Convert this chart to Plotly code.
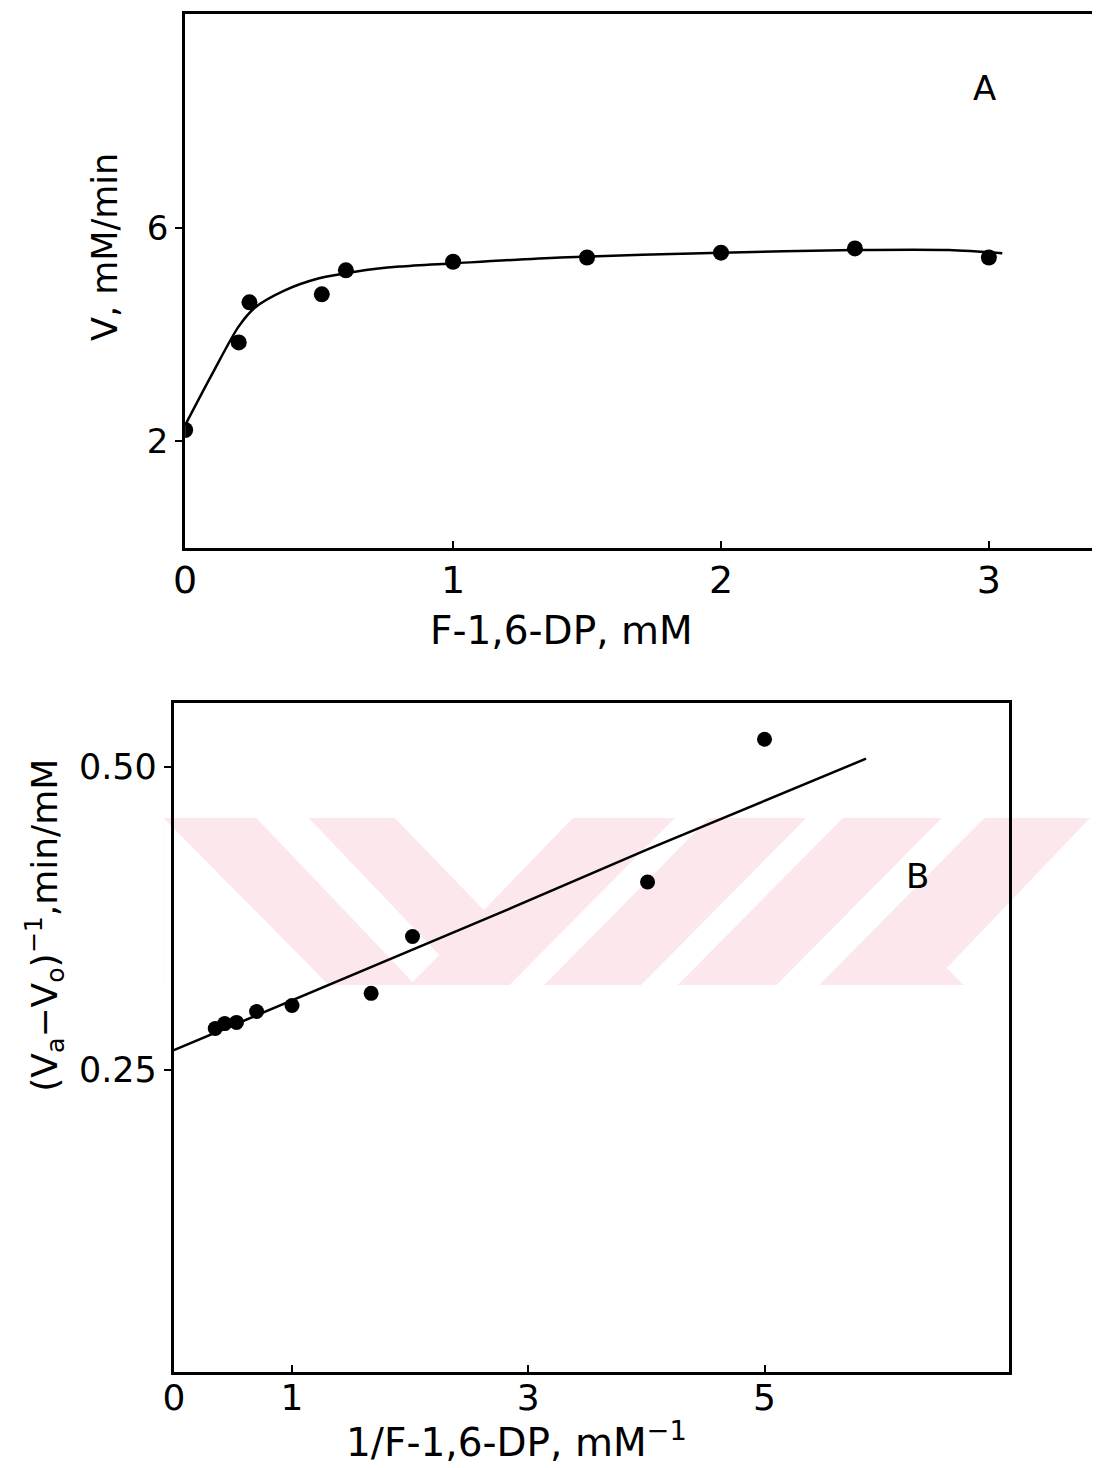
import plotly.graph_objects as go

# page offset of the plot inside the browser body (default 8px body margin)
OFF = 8
W, H = 1100 - OFF, 1468 - OFF

# ---------------- Panel A data ----------------
a_x = [0.0, 0.20, 0.24, 0.51, 0.60, 1.0, 1.5, 2.0, 2.5, 3.0]
a_y = [2.21, 3.85, 4.60, 4.75, 5.20, 5.36, 5.44, 5.53, 5.61, 5.44]
a_curve_x = [0.0, 0.10, 0.20, 0.26, 0.37, 0.50, 0.64, 0.80, 1.0, 1.4, 2.0, 2.5, 2.85, 3.05]
a_curve_y = [2.30, 3.25, 4.15, 4.50, 4.82, 5.05, 5.18, 5.27, 5.33, 5.44, 5.53, 5.58, 5.58, 5.52]
a_xticks = [0, 1, 2, 3]
a_xticklabels = ["0", "1", "2", "3"]
a_yticks = [2, 6]
a_yticklabels = ["2", "6"]

# ---------------- Panel B data ----------------
b_x = [0.35, 0.43, 0.53, 0.70, 1.0, 1.67, 2.02, 4.01, 5.0]
b_y = [0.284, 0.288, 0.289, 0.298, 0.303, 0.313, 0.360, 0.405, 0.523]
b_line_x = [0.0, 2.82, 4.01, 5.0, 5.86]
b_line_y = [0.266, 0.382, 0.432, 0.472, 0.507]
b_xticks = [0, 1, 3, 5]
b_xticklabels = ["0", "1", "3", "5"]
b_yticks = [0.25, 0.50]
b_yticklabels = ["0.25", "0.50"]

FONT = "DejaVu Sans"


def px(x):
    return (x - OFF) / W


def py(y):
    return 1 - (y - OFF) / H


fig = go.Figure()

fig.add_trace(go.Scatter(x=a_curve_x, y=a_curve_y, mode="lines",
                         line=dict(color="black", width=2.5, shape="spline", smoothing=0.8),
                         xaxis="x", yaxis="y", showlegend=False))
fig.add_trace(go.Scatter(x=a_x, y=a_y, mode="markers",
                         marker=dict(color="black", size=16),
                         xaxis="x", yaxis="y", showlegend=False))
fig.add_trace(go.Scatter(x=b_line_x, y=b_line_y, mode="lines",
                         line=dict(color="black", width=2.5),
                         xaxis="x2", yaxis="y2", showlegend=False))
fig.add_trace(go.Scatter(x=b_x, y=b_y, mode="markers",
                         marker=dict(color="black", size=15),
                         xaxis="x2", yaxis="y2", showlegend=False))

axis_common = dict(showline=True, linecolor="black", linewidth=3, mirror=True,
                   showgrid=False, zeroline=False, ticks="outside", tickcolor="black",
                   tickwidth=2, ticklen=7)

fig.update_layout(
    width=W, height=H,
    margin=dict(l=0, r=0, t=0, b=0),
    paper_bgcolor="white", plot_bgcolor="rgba(0,0,0,0)",
    font=dict(family=FONT, color="black"),
    xaxis=dict(axis_common, domain=[px(175), px(1096)], range=[0, 3.40], anchor="y",
               tickvals=a_xticks, ticktext=a_xticklabels, ticks="inside",
               ticklabelstandoff=-4,
               tickfont=dict(size=38, family=FONT)),
    yaxis=dict(axis_common, domain=[py(548), py(14)], range=[0, 10], anchor="x",
               tickvals=a_yticks, ticktext=a_yticklabels,
               tickfont=dict(size=34, family=FONT)),
    xaxis2=dict(axis_common, domain=[px(163.6), px(1008)], range=[0, 7.07], anchor="y2",
                tickvals=b_xticks, ticktext=b_xticklabels, ticks="inside",
                ticklabelstandoff=-8,
                tickfont=dict(size=36, family=FONT)),
    yaxis2=dict(axis_common, domain=[py(1372), py(703)], range=[0, 0.553], anchor="x2",
                tickvals=b_yticks, ticktext=b_yticklabels,
                tickfont=dict(size=35, family=FONT)),
)

# ---------------- text ----------------
ann = [
    dict(text="A", x=px(983), y=py(88), size=34),
    dict(text="B", x=px(915), y=py(876), size=34),
    dict(text="V, mM/min", x=px(94), y=py(247), size=35, angle=-90),
    dict(text="F-1,6-DP, mM", x=px(556), y=py(630), size=39),
    dict(text="1/F-1,6-DP, mM<sup>−1</sup>", x=px(510), y=py(1440), size=39),
    dict(text="(V<sub>a</sub>−V<sub>o</sub>)<sup>−1</sup>,min/mM", x=px(33), y=py(925),
         size=36, angle=-90),
]
for a in ann:
    fig.add_annotation(text=a["text"], x=a["x"], y=a["y"], xref="paper", yref="paper",
                       showarrow=False, xanchor="center", yanchor="middle",
                       textangle=a.get("angle", 0),
                       font=dict(size=a["size"], family=FONT, color="black"))

# ---------------- faint background watermark ----------------
PINK = "#fce8ec"


def poly(points, color):
    d = "M " + " L ".join(f"{px(x):.5f},{py(y):.5f}" for x, y in points) + " Z"
    fig.add_shape(type="path", path=d, xref="paper", yref="paper",
                  fillcolor=color, line=dict(width=0), layer="below")


poly([(153, 818), (1090, 818), (1090, 985), (153, 985)], PINK)
white = "white"
poly([(153, 818), (320, 985), (153, 985)], white)
poly([(247, 818), (300, 818), (432, 955), (405, 982)], white)
poly([(387, 818), (567, 818), (477, 910)], white)
poly([(670, 818), (705, 818), (538, 985), (503, 985)], white)
poly([(803, 818), (840, 818), (673, 985), (636, 985)], white)
poly([(940, 818), (983, 818), (816, 985), (773, 985)], white)
poly([(1090, 818), (1100, 818), (1100, 985), (962, 985), (945, 968)], white)

fig.write_html("out.html")
